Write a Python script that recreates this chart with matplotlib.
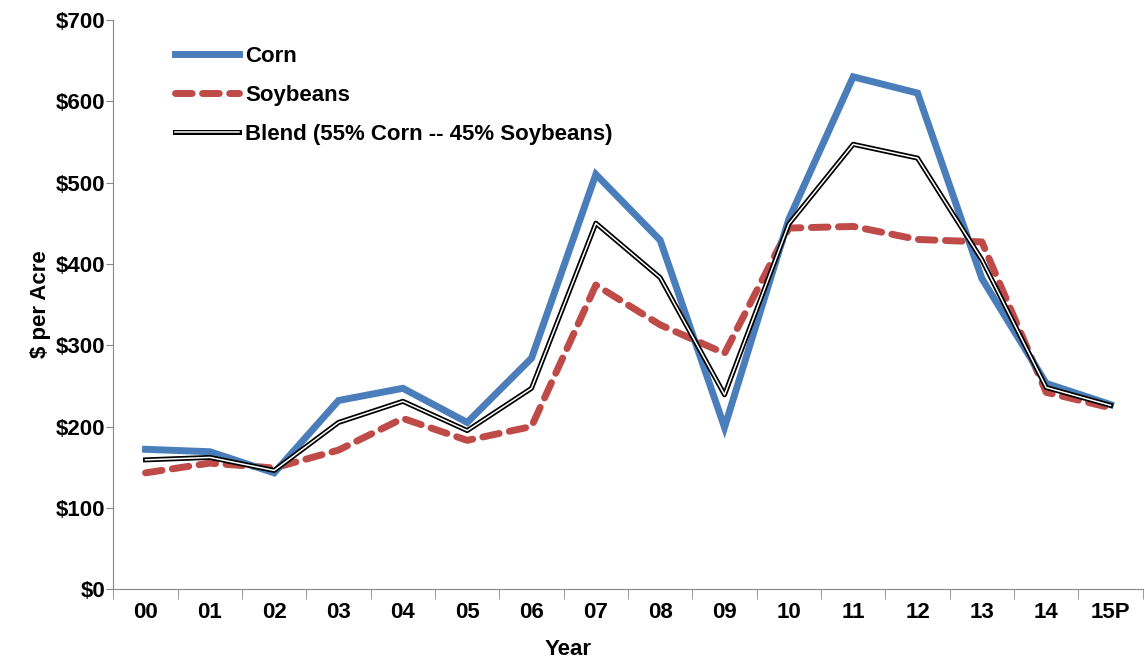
import numpy as np
import matplotlib
matplotlib.use("Agg")
import matplotlib.pyplot as plt
import matplotlib.patheffects as pe
from matplotlib.ticker import FixedLocator, FuncFormatter

# values ($ per acre)
years = ["00", "01", "02", "03", "04", "05", "06", "07", "08", "09",
         "10", "11", "12", "13", "14", "15P"]
corn = [172, 169, 143, 232, 247, 205, 284, 510, 429, 199,
        455, 630, 610, 382, 253, 227]
soybeans = [143, 155, 149, 171, 210, 183, 200, 374, 325, 290,
            444, 446, 430, 427, 242, 223]
blend = [159, 162, 146, 205, 231, 195, 247, 450, 383, 239,
         449, 547, 530, 405, 248, 226]

plt.rcParams['font.family'] = ['Liberation Sans', 'DejaVu Sans']

FS = 16


def make_plot():
	fig = plt.figure(figsize=(11.45, 6.62), dpi=100)
	ax = fig.add_axes([0.099, 0.110, 0.899, 0.860])
	x = np.arange(len(years))

	ax.plot(x, corn, color='#4a7ebb', lw=5.0, solid_joinstyle='miter',
		label='Corn', zorder=3)
	ax.plot(x, soybeans, color='#be4b48', lw=5.0, dashes=(2.4, 1.5),
		dash_capstyle='round', label='Soybeans', zorder=2)
	ax.plot(x, blend, color='white', lw=1.1, zorder=4,
		label='Blend (55% Corn -- 45% Soybeans)',
		path_effects=[pe.Stroke(linewidth=3.6, foreground='black'), pe.Normal()])

	ax.set_xlim(-0.5, len(years) - 0.5)
	ax.set_ylim(0, 700)
	ax.yaxis.set_major_locator(FixedLocator(range(0, 701, 100)))
	ax.yaxis.set_major_formatter(FuncFormatter(lambda v, p: '\\$%d' % v))

	ax.set_xticks(x)
	ax.set_xticklabels(years)
	ax.set_xticks(np.arange(-0.5, len(years)), minor=True)
	ax.tick_params(axis='x', which='major', length=0, pad=9)
	ax.tick_params(axis='x', which='minor', length=7, color='#888888')
	ax.tick_params(axis='y', length=5, color='#888888', pad=1)
	for lab in ax.get_xticklabels() + ax.get_yticklabels():
		lab.set_fontsize(FS)
		lab.set_fontweight('bold')

	for side in ['top', 'right']:
		ax.spines[side].set_visible(False)
	for side in ['left', 'bottom']:
		ax.spines[side].set_color('#888888')

	ax.set_xlabel('Year', fontsize=FS, fontweight='bold')
	ax.xaxis.set_label_coords(0.4417, -0.088)
	ax.set_ylabel('\\$ per Acre', fontsize=FS, fontweight='bold', labelpad=3)

	ax.legend(loc='upper left', bbox_to_anchor=(0.040, 0.99), frameon=False,
		handlelength=2.9, handletextpad=0.27, labelspacing=0.81,
		prop={'weight': 'bold', 'size': FS})

	fig.savefig('out.png', dpi=100)


if __name__ == "__main__":
	make_plot()
